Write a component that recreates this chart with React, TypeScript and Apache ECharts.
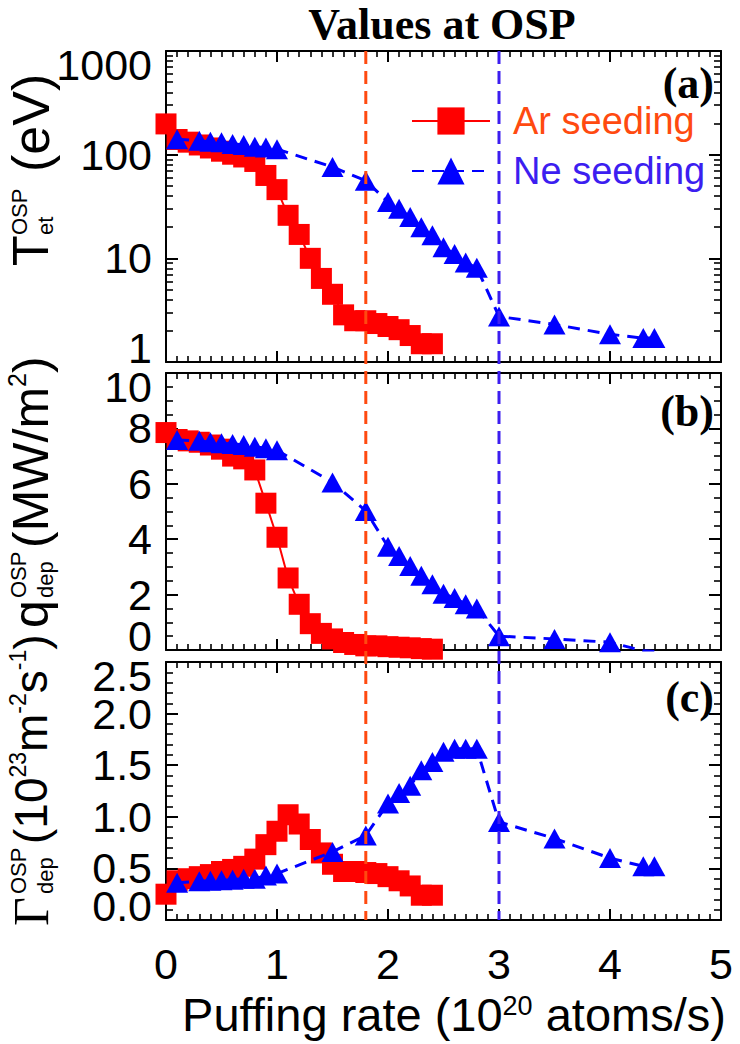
import React, { useEffect, useRef } from 'react';
import * as echarts from 'echarts';

// ---------- data ----------
const arPuff = [0, 0.1, 0.2, 0.3, 0.4, 0.5, 0.6, 0.7, 0.8, 0.9, 1.0, 1.1, 1.2, 1.3, 1.4, 1.5, 1.6, 1.7, 1.8, 1.9, 2.0, 2.1, 2.2, 2.3, 2.4];
const nePuff = [0.1, 0.3, 0.4, 0.5, 0.6, 0.7, 0.8, 0.9, 1.0, 1.5, 1.8, 2.0, 2.1, 2.2, 2.3, 2.4, 2.5, 2.6, 2.7, 2.8, 3.0, 3.5, 4.0, 4.3, 4.4];

// (a) T_et at OSP (eV)
const arTemp = [198, 140, 132, 124, 116, 108, 101, 95, 86, 63, 46, 26, 17, 10, 6.4, 4.5, 2.85, 2.5, 2.5, 2.35, 2.2, 2.05, 1.8, 1.5, 1.5];
const neTemp = [141, 136, 133, 132, 127, 124, 119, 117, 113, 76, 56, 35, 30, 25, 20, 16.7, 12.8, 11, 9.1, 8.1, 2.75, 2.3, 1.85, 1.7, 1.7];

// (b) q_dep at OSP (MW/m2)
const arHeat = [7.85, 7.6, 7.55, 7.5, 7.4, 7.25, 7.0, 6.9, 6.5, 5.3, 4.07, 2.6, 1.65, 0.95, 0.6, 0.4, 0.27, 0.2, 0.15, 0.15, 0.12, 0.1, 0.08, 0.05, 0.03];
const neHeat = [7.58, 7.55, 7.5, 7.46, 7.44, 7.4, 7.34, 7.28, 7.21, 6.05, 5.02, 3.73, 3.39, 3.03, 2.68, 2.37, 2.03, 1.88, 1.65, 1.5, 0.5, 0.4, 0.28, -0.03, -0.05];

// (c) Gamma_dep at OSP (1e23 m-2 s-1)
const arFlux = [0.25, 0.38, 0.4, 0.42, 0.44, 0.47, 0.49, 0.52, 0.59, 0.73, 0.86, 1.02, 0.93, 0.78, 0.65, 0.54, 0.47, 0.47, 0.46, 0.45, 0.42, 0.38, 0.33, 0.24, 0.24];
const neFlux = [0.36, 0.375, 0.38, 0.385, 0.39, 0.4, 0.4, 0.43, 0.45, 0.66, 0.82, 1.13, 1.23, 1.3, 1.45, 1.53, 1.63, 1.66, 1.66, 1.66, 0.95, 0.79, 0.6, 0.52, 0.52];

// reference puffing rates (vertical dashed lines)
const arMarkPuff = 1.8;
const neMarkPuff = 3.0;

// tick values
const heatTicks = [0, 2, 4, 6, 8, 10];
const fluxTicks = [0, 0.5, 1.0, 1.5, 2.0, 2.5];
const logMinorTickValues = [2, 3, 4, 5, 6, 7, 8, 9, 20, 30, 40, 50, 60, 70, 80, 90, 200, 300, 400, 500, 600, 700, 800, 900];

const AR_COLOR = '#ff0000';
const NE_COLOR = '#0000ff';
const AR_TEXT = '#ff4a10';
const NE_TEXT = '#3c1ef0';
const SANS = '"Liberation Sans", Arial, Helvetica, sans-serif';
const SERIF = '"Liberation Serif", "Times New Roman", serif';

const pair = (xs: number[], ys: number[]) => xs.map((x, i) => [x, ys[i]]);

const lineCol = '#000';
const LABEL_FONT = 43;

function xAxisDef(gridIndex: number, position: 'top' | 'bottom', labels: boolean) {
  return {
    type: 'value',
    gridIndex,
    position,
    min: 0,
    max: 5,
    interval: 1,
    axisLine: { show: true, onZero: false, lineStyle: { color: lineCol, width: 2 } },
    axisTick: { show: true, inside: true, length: 11, lineStyle: { color: lineCol, width: 2 } },
    minorTick: { show: true, splitNumber: 10, length: 6, lineStyle: { color: lineCol, width: 1.6 } },
    axisLabel: { show: labels, fontSize: LABEL_FONT, fontFamily: SANS, color: '#000', margin: 22 },
    splitLine: { show: false },
    minorSplitLine: { show: false },
  };
}

// main value y-axis: frame line, ticks, minor ticks and the inner tick labels
function yValueDef(gridIndex: number, position: 'left' | 'right', ticks: number[], split: number, digits: number, labels: boolean) {
  const max = ticks[ticks.length - 1];
  return {
    type: 'value',
    gridIndex,
    position,
    min: ticks[0],
    max,
    interval: ticks[1] - ticks[0],
    axisLine: { show: true, onZero: false, lineStyle: { color: lineCol, width: 2 } },
    axisTick: { show: true, inside: true, length: 12, lineStyle: { color: lineCol, width: 2 } },
    minorTick: { show: true, splitNumber: split, length: 7, lineStyle: { color: lineCol, width: 1.6 } },
    axisLabel: {
      show: labels,
      customValues: ticks.slice(1, -1),
      fontSize: LABEL_FONT,
      lineHeight: 28,
      fontFamily: SANS,
      color: '#000',
      margin: 14,
      formatter: (v: number) => v.toFixed(digits),
    },
    splitLine: { show: false },
    minorSplitLine: { show: false },
  };
}

// helper y-axis carrying only the end labels (aligned inward like the reference)
function yEndLabelDef(gridIndex: number, ticks: number[], digits: number) {
  const max = ticks[ticks.length - 1];
  return {
    type: 'value',
    gridIndex,
    position: 'left',
    min: ticks[0],
    max,
    axisLine: { show: false, onZero: false },
    axisTick: { show: false },
    axisLabel: {
      show: true,
      customValues: [ticks[0], max],
      fontSize: LABEL_FONT,
      lineHeight: 28,
      fontFamily: SANS,
      color: '#000',
      margin: 14,
      showMinLabel: true,
      showMaxLabel: true,
      verticalAlignMinLabel: 'bottom',
      verticalAlignMaxLabel: 'top',
      formatter: (v: number) => v.toFixed(digits),
    },
    splitLine: { show: false },
  };
}

function yLogDef(gridIndex: number, position: 'left' | 'right', labels: boolean) {
  return {
    type: 'log',
    logBase: 10,
    gridIndex,
    position,
    min: 1,
    max: 1000,
    axisLine: { show: true, onZero: false, lineStyle: { color: lineCol, width: 2 } },
    axisTick: { show: true, inside: true, length: 12, lineStyle: { color: lineCol, width: 2 } },
    axisLabel: {
      show: labels,
      fontSize: LABEL_FONT,
      lineHeight: 28,
      fontFamily: SANS,
      color: '#000',
      margin: 14,
      showMinLabel: true,
      showMaxLabel: true,
      verticalAlignMinLabel: 'bottom',
      verticalAlignMaxLabel: 'top',
      formatter: (v: number) => String(Math.round(v)),
    },
    splitLine: { show: false },
  };
}

function yLogMinorDef(gridIndex: number, position: 'left' | 'right') {
  return {
    type: 'value',
    gridIndex,
    position,
    min: 0,
    max: 3,
    axisLine: { show: false, onZero: false },
    axisTick: {
      show: true,
      inside: true,
      length: 7,
      lineStyle: { color: lineCol, width: 1.6 },
      customValues: logMinorTickValues.map((v) => Math.log10(v)),
    },
    axisLabel: { show: false },
    splitLine: { show: false },
  };
}

function arSeries(xi: number, yi: number, ys: number[]) {
  return {
    name: 'Ar seeding',
    type: 'line',
    xAxisIndex: xi,
    yAxisIndex: yi,
    data: pair(arPuff, ys),
    symbol: 'rect',
    symbolSize: 21,
    lineStyle: { color: AR_COLOR, width: 2 },
    itemStyle: { color: AR_COLOR },
    z: 3,
  };
}

function neSeries(xi: number, yi: number, ys: number[]) {
  return {
    name: 'Ne seeding',
    type: 'line',
    xAxisIndex: xi,
    yAxisIndex: yi,
    data: pair(nePuff, ys),
    symbol: 'triangle',
    symbolSize: [22, 20],
    lineStyle: { color: NE_COLOR, width: 3, type: [12, 8] },
    itemStyle: { color: NE_COLOR },
    z: 4,
  };
}

const txt = (text: string, x: number, y: number, size: number, extra: any = {}) => ({
  type: 'text',
  x,
  y,
  style: { text, fontSize: size, fontFamily: SANS, fill: '#000', align: 'left', verticalAlign: 'middle', ...extra },
});

export default function App() {
  const ref = useRef<HTMLDivElement>(null);
  useEffect(() => {
    if (!ref.current) return;
    const chart = echarts.init(ref.current, null, { renderer: 'svg' });
    const option: any = {
      animation: false,
      grid: [
        { left: 166, top: 51, width: 555, height: 311 },
        { left: 166, top: 373, width: 555, height: 277 },
        { left: 166, top: 662, width: 555, height: 258 },
      ],
      xAxis: [
        xAxisDef(0, 'bottom', false),
        xAxisDef(1, 'bottom', false),
        xAxisDef(2, 'bottom', true),
        xAxisDef(0, 'top', false),
        xAxisDef(1, 'top', false),
        xAxisDef(2, 'top', false),
      ],
      yAxis: [
        yLogDef(0, 'left', true),
        yValueDef(1, 'left', heatTicks, 4, 0, true),
        yValueDef(2, 'left', fluxTicks, 5, 1, true),
        yLogDef(0, 'right', false),
        yValueDef(1, 'right', heatTicks, 4, 0, false),
        yValueDef(2, 'right', fluxTicks, 5, 1, false),
        yLogMinorDef(0, 'left'),
        yLogMinorDef(0, 'right'),
        yEndLabelDef(1, heatTicks, 0),
        yEndLabelDef(2, fluxTicks, 1),
      ],
      legend: {
        left: 406,
        top: 97,
        orient: 'vertical',
        itemWidth: 78,
        itemHeight: 34,
        itemGap: 12,
        selectedMode: false,
        textStyle: { fontSize: 38, fontFamily: SANS, padding: [0, 0, 0, 18], lineHeight: 34 },
        data: [
          { name: 'Ar seeding', textStyle: { color: AR_TEXT } },
          { name: 'Ne seeding', textStyle: { color: NE_TEXT } },
        ],
      },
      series: [
        arSeries(0, 0, arTemp),
        neSeries(0, 0, neTemp),
        arSeries(1, 1, arHeat),
        neSeries(1, 1, neHeat),
        arSeries(2, 2, arFlux),
        neSeries(2, 2, neFlux),
      ],
    };
    chart.setOption(option);

    const xAr = chart.convertToPixel({ xAxisIndex: 0 }, arMarkPuff) as number;
    const xNe = chart.convertToPixel({ xAxisIndex: 0 }, neMarkPuff) as number;
    const yTop = chart.convertToPixel({ yAxisIndex: 0 }, 1000) as number;
    const yBot = chart.convertToPixel({ yAxisIndex: 2 }, 0) as number;

    const richB = { s: { fontSize: 25, fontFamily: SANS, verticalAlign: 'top', lineHeight: 54 } };
    const richC = { s: { fontSize: 23, fontFamily: SANS, verticalAlign: 'top', lineHeight: 50 } };
    const graphic: any[] = [
      {
        type: 'text',
        x: 442,
        y: 24,
        style: { text: 'Values at OSP', fontSize: 44, fontWeight: 'bold', fontFamily: SERIF, fill: '#000', align: 'center', verticalAlign: 'middle' },
      },
      { type: 'text', x: 714, y: 83, style: { text: '(a)', fontSize: 44, fontWeight: 'bold', fontFamily: SERIF, fill: '#000', align: 'right', verticalAlign: 'middle' } },
      { type: 'text', x: 714, y: 411, style: { text: '(b)', fontSize: 44, fontWeight: 'bold', fontFamily: SERIF, fill: '#000', align: 'right', verticalAlign: 'middle' } },
      { type: 'text', x: 714, y: 697, style: { text: '(c)', fontSize: 44, fontWeight: 'bold', fontFamily: SERIF, fill: '#000', align: 'right', verticalAlign: 'middle' } },
      // y titles (rotated groups, text reads bottom to top)
      {
        type: 'group',
        x: 31,
        y: 266,
        rotation: Math.PI / 2,
        children: [
          txt('T', 0, 0, 50),
          txt('OSP', 31, -12, 22),
          txt('et', 31, 14, 22),
          txt('(eV)', 94, 0, 52),
        ],
      },
      {
        type: 'group',
        x: 31,
        y: 628,
        rotation: Math.PI / 2,
        children: [
          txt('q', 0, 0, 50),
          txt('OSP', 30, -13, 22),
          txt('dep', 30, 14, 22),
          txt('(MW/m{s|2})', 80, 0, 50, { rich: richB }),
        ],
      },
      {
        type: 'group',
        x: 31,
        y: 926,
        rotation: Math.PI / 2,
        children: [
          txt('Γ', 0, 0, 50, { fontFamily: SERIF }),
          txt('OSP', 32, -13, 22),
          txt('dep', 32, 14, 22),
          txt('(10{s|23}m{s|-2}s{s|-1})', 82, 0, 46, { rich: richC }),
        ],
      },
      // x title
      {
        type: 'text',
        x: 454,
        y: 1014,
        style: {
          text: 'Puffing rate (10{s|20} atoms/s)',
          fontSize: 47,
          lineHeight: 44,
          fontFamily: SANS,
          fill: '#000',
          align: 'center',
          verticalAlign: 'middle',
          rich: { s: { fontSize: 27, fontFamily: SANS, verticalAlign: 'top', lineHeight: 44 } },
        },
      },
      // vertical reference lines
      {
        type: 'line',
        z: 50,
        shape: { x1: xAr, y1: yTop, x2: xAr, y2: yBot },
        style: { stroke: AR_TEXT, lineWidth: 3, lineDash: [13, 7] },
      },
      {
        type: 'line',
        z: 50,
        shape: { x1: xNe, y1: yTop, x2: xNe, y2: yBot },
        style: { stroke: NE_TEXT, lineWidth: 3, lineDash: [13, 7] },
      },
    ];
    chart.setOption({ graphic });
    return () => chart.dispose();
  }, []);
  return <div ref={ref} style={{ position: 'absolute', left: 0, top: 0, width: 740, height: 1044, background: '#fff' }} />;
}
